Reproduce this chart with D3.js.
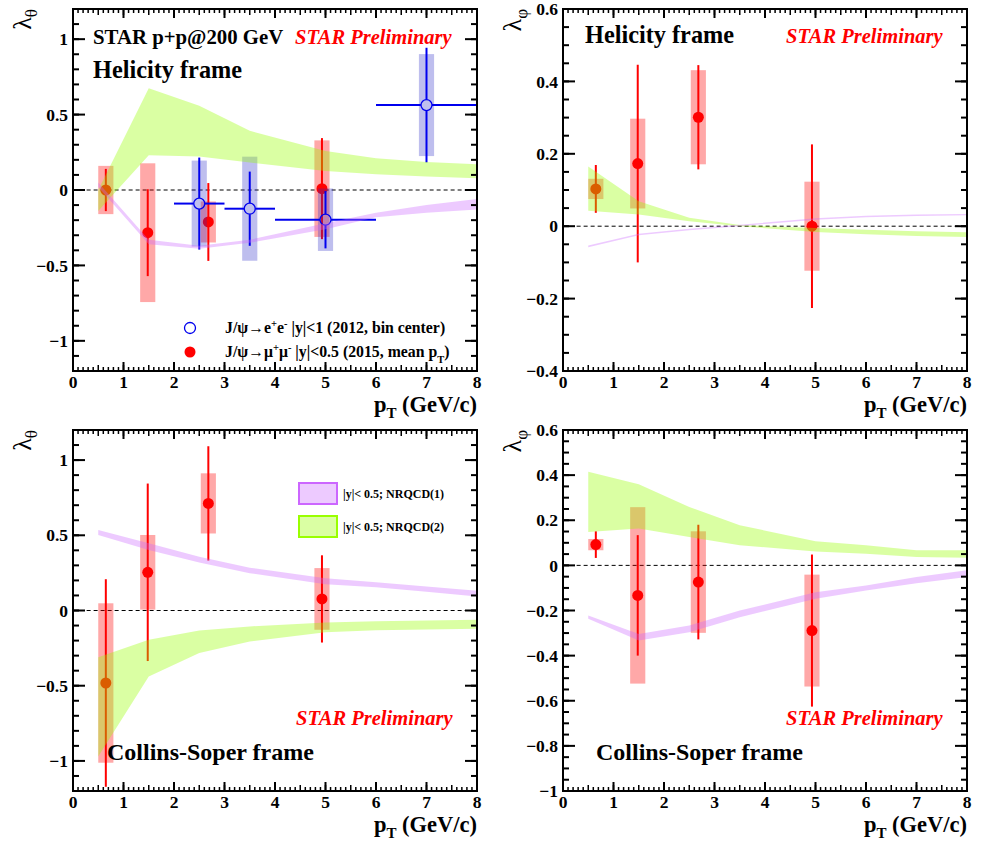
<!DOCTYPE html>
<html>
<head>
<meta charset="utf-8">
<script src="https://cdn.jsdelivr.net/npm/d3@7"></script>
<style>
  body { margin: 0; background: #fff; }
  svg { display: block; }
</style>
</head>
<body>
<svg id="chart" width="981" height="847" font-family="Liberation Serif, Times New Roman, serif" font-weight="bold"></svg>
<script>
// --- data ---
const ptMean2015 = [0.65, 1.48, 2.68, 4.93]
const ptCenter2012 = [2.5, 3.5, 5, 7]
const ptLow2012 = [2, 3, 4, 6]
const ptHigh2012 = [3, 4, 6, 8]

// Helicity frame, lambda_theta
const hxTheta2015 = [0.0, -0.283, -0.212, 0.009]
const hxTheta2015Stat = [0.14, 0.288, 0.258, 0.335]
const hxTheta2015Sys = [0.16, 0.46, 0.136, 0.32]
const hxTheta2012 = [-0.09, -0.124, -0.197, 0.563]
const hxTheta2012Stat = [0.305, 0.246, 0.19, 0.38]
const hxTheta2012Sys = [0.285, 0.345, 0.207, 0.338]

// Helicity frame, lambda_phi
const hxPhi2015 = [0.103, 0.173, 0.301, 0.0]
const hxPhi2015Stat = [0.066, 0.273, 0.144, 0.226]
const hxPhi2015Sys = [0.028, 0.124, 0.13, 0.123]

// Collins-Soper frame, lambda_theta
const csTheta2015 = [-0.482, 0.254, 0.712, 0.077]
const csTheta2015Stat = [0.69, 0.59, 0.38, 0.29]
const csTheta2015Sys = [0.53, 0.248, 0.2, 0.205]

// Collins-Soper frame, lambda_phi
const csPhi2015 = [0.092, -0.133, -0.074, -0.289]
const csPhi2015Stat = [0.059, 0.267, 0.254, 0.337]
const csPhi2015Sys = [0.025, 0.391, 0.225, 0.248]

// NRQCD bands
const bandPt = [0.5, 1.5, 2.5, 3.5, 5, 6, 7, 8]
const hxThetaN1Lo = [0.02, -0.36, -0.39, -0.35, -0.26, -0.18, -0.15, -0.13]
const hxThetaN1Hi = [0.05, -0.33, -0.37, -0.33, -0.22, -0.15, -0.10, -0.06]
const hxThetaN2Lo = [-0.14, 0.231, 0.222, 0.182, 0.126, 0.104, 0.09, 0.078]
const hxThetaN2Hi = [0.0, 0.674, 0.558, 0.392, 0.259, 0.21, 0.185, 0.171]
const hxPhiN1Lo = [-0.058, -0.025, -0.011, 0.0, 0.018, 0.025, 0.028, 0.030]
const hxPhiN1Hi = [-0.053, -0.021, -0.007, 0.004, 0.022, 0.029, 0.032, 0.034]
const hxPhiN2Lo = [0.043, 0.032, 0.014, 0.0, -0.016, -0.022, -0.027, -0.03]
const hxPhiN2Hi = [0.165, 0.069, 0.023, 0.003, -0.005, -0.01, -0.014, -0.017]
const csThetaN1Lo = [0.502, 0.403, 0.319, 0.248, 0.175, 0.155, 0.125, 0.093]
const csThetaN1Hi = [0.535, 0.447, 0.358, 0.285, 0.215, 0.188, 0.16, 0.131]
const csThetaN2Lo = [-0.97, -0.438, -0.283, -0.206, -0.144, -0.132, -0.126, -0.122]
const csThetaN2Hi = [-0.31, -0.195, -0.133, -0.106, -0.08, -0.072, -0.066, -0.062]
const csPhiN1Lo = [-0.237, -0.333, -0.296, -0.23, -0.148, -0.111, -0.079, -0.052]
const csPhiN1Hi = [-0.222, -0.304, -0.267, -0.2, -0.119, -0.089, -0.052, -0.022]
const csPhiN2Lo = [0.148, 0.163, 0.126, 0.089, 0.062, 0.052, 0.037, 0.034]
const csPhiN2Hi = [0.415, 0.36, 0.259, 0.178, 0.107, 0.089, 0.067, 0.067]

// tick labels
const xTicks = [0, 1, 2, 3, 4, 5, 6, 7, 8]
const yTicksTheta = [-1, -0.5, 0, 0.5, 1]
const yTicksPhiHX = [-0.4, -0.2, 0, 0.2, 0.4, 0.6]
const yTicksPhiCS = [-1, -0.8, -0.6, -0.4, -0.2, 0, 0.2, 0.4, 0.6]

const legend2012 = ["J/\u03c8\u2192e", "+", "e", "-", " |y|<1 (2012, bin center)"]
const legend2015 = ["J/\u03c8\u2192\u03bc", "+", "\u03bc", "-", " |y|<0.5 (2015, mean p", "T", ")"]
const bandLabels = ["|y|< 0.5; NRQCD(1)", "|y|< 0.5; NRQCD(2)"]

// --- style ---
const RED = "#ff0000"
const RED_BOX = "rgba(255,0,0,0.34)"
const BLUE = "#0000ee"
const BLUE_BOX = "rgba(40,40,200,0.3)"
const GREEN_BAND = "rgba(153,255,0,0.36)"
const PURPLE_BAND = "rgba(204,102,255,0.35)"

const svg = d3.select("#chart")

const fmt = d => d === 0 ? "0" : (d < 0 ? "\u2212" : "") + Math.abs(d)

function zip(a, b, c) {
    return a.map((v, i) => ({ x: v, lo: b[i], hi: c[i] }))
}

function drawPanel(p) {
    var x = d3.scaleLinear().domain([0, 8]).range([p.left, p.right])
    var y = d3.scaleLinear().domain(p.yDomain).range([p.bottom, p.top])
    var g = svg.append("g")

    // zero line
    g.append("line")
        .attr("x1", x(0.27)).attr("x2", x(7.9))
        .attr("y1", y(0)).attr("y2", y(0))
        .attr("stroke", "#000").attr("stroke-width", 1)
        .attr("stroke-dasharray", "4,3")

    // 2015 points (red)
    var red = p.val.map((v, i) => ({ x: ptMean2015[i], y: v, stat: p.stat[i], sys: p.sys[i] }))
    g.selectAll(".sysr").data(red).enter().append("rect")
        .attr("x", d => x(d.x - 0.15))
        .attr("width", d => x(d.x + 0.15) - x(d.x - 0.15))
        .attr("y", d => y(d.y + d.sys))
        .attr("height", d => y(d.y - d.sys) - y(d.y + d.sys))
        .attr("fill", RED_BOX)
    g.selectAll(".statr").data(red).enter().append("line")
        .attr("x1", d => x(d.x)).attr("x2", d => x(d.x))
        .attr("y1", d => y(d.y + d.stat)).attr("y2", d => y(d.y - d.stat))
        .attr("stroke", RED).attr("stroke-width", 2)
    g.selectAll(".ptr").data(red).enter().append("circle")
        .attr("cx", d => x(d.x)).attr("cy", d => y(d.y))
        .attr("r", 5.5).attr("fill", RED)

    // 2012 points (blue, helicity lambda_theta only)
    if (p.val2012) {
        var blue = p.val2012.map((v, i) => ({
            x: ptCenter2012[i], lo: ptLow2012[i], hi: ptHigh2012[i],
            y: v, stat: p.stat2012[i], sys: p.sys2012[i]
        }))
        var r = 5.5
        g.selectAll(".sysb").data(blue).enter().append("rect")
            .attr("x", d => x(d.x - 0.15))
            .attr("width", d => x(d.x + 0.15) - x(d.x - 0.15))
            .attr("y", d => y(d.y + d.sys))
            .attr("height", d => y(d.y - d.sys) - y(d.y + d.sys))
            .attr("fill", BLUE_BOX)
        var bg = g.selectAll(".ptb").data(blue).enter().append("g")
        bg.append("line") // left
            .attr("x1", d => x(d.lo)).attr("x2", d => x(d.x) - r)
            .attr("y1", d => y(d.y)).attr("y2", d => y(d.y))
        bg.append("line") // right
            .attr("x1", d => x(d.x) + r).attr("x2", d => x(d.hi))
            .attr("y1", d => y(d.y)).attr("y2", d => y(d.y))
        bg.append("line") // up
            .attr("x1", d => x(d.x)).attr("x2", d => x(d.x))
            .attr("y1", d => y(d.y + d.stat)).attr("y2", d => y(d.y) - r)
        bg.append("line") // down
            .attr("x1", d => x(d.x)).attr("x2", d => x(d.x))
            .attr("y1", d => y(d.y) + r).attr("y2", d => y(d.y - d.stat))
        bg.selectAll("line").attr("stroke", BLUE).attr("stroke-width", 2)
        bg.append("circle")
            .attr("cx", d => x(d.x)).attr("cy", d => y(d.y))
            .attr("r", r).attr("fill", "none")
            .attr("stroke", BLUE).attr("stroke-width", 1.3)
    }

    // NRQCD bands, drawn over the points
    var area = d3.area()
        .x(d => x(d.x))
        .y0(d => y(d.lo))
        .y1(d => y(d.hi))
    g.append("path").attr("d", area(p.band2)).attr("fill", GREEN_BAND)
    g.append("path").attr("d", area(p.band1)).attr("fill", PURPLE_BAND)

    // frame and ticks (ROOT style, inward, on all four sides)
    var ax = svg.append("g").attr("stroke", "#000")
    var yMinorStep = p.yMinor
    var yMinor = d3.range(Math.ceil(p.yDomain[0] / yMinorStep - 1e-6), Math.floor(p.yDomain[1] / yMinorStep + 1e-6) + 1)
        .map(i => i * yMinorStep)
    var xMinor = d3.range(1, 80).map(i => i / 10)

    yMinor.forEach(v => {
        ax.append("line").attr("x1", p.left).attr("x2", p.left + 6).attr("y1", y(v)).attr("y2", y(v)).attr("stroke-width", 2)
        ax.append("line").attr("x1", p.right).attr("x2", p.right - 6).attr("y1", y(v)).attr("y2", y(v)).attr("stroke-width", 2)
    })
    p.yTicks.forEach(v => {
        ax.append("line").attr("x1", p.left).attr("x2", p.left + 12).attr("y1", y(v)).attr("y2", y(v)).attr("stroke-width", 2)
        ax.append("line").attr("x1", p.right).attr("x2", p.right - 12).attr("y1", y(v)).attr("y2", y(v)).attr("stroke-width", 2)
    })
    xMinor.forEach((v, i) => {
        var len = (i + 1) % 5 === 0 ? 6 : 4
        ax.append("line").attr("x1", x(v)).attr("x2", x(v)).attr("y1", p.bottom).attr("y2", p.bottom - len).attr("stroke-width", 1.5)
        ax.append("line").attr("x1", x(v)).attr("x2", x(v)).attr("y1", p.top).attr("y2", p.top + len).attr("stroke-width", 1.5)
    })
    xTicks.forEach(v => {
        ax.append("line").attr("x1", x(v)).attr("x2", x(v)).attr("y1", p.bottom).attr("y2", p.bottom - 9).attr("stroke-width", 2)
        ax.append("line").attr("x1", x(v)).attr("x2", x(v)).attr("y1", p.top).attr("y2", p.top + 9).attr("stroke-width", 2)
    })
    ax.append("rect")
        .attr("x", p.left).attr("y", p.top)
        .attr("width", p.right - p.left).attr("height", p.bottom - p.top)
        .attr("fill", "none").attr("stroke-width", 2)

    // tick labels
    svg.append("g").selectAll("text").data(p.yTicks).enter().append("text")
        .attr("x", p.left - 5).attr("y", d => y(d)).attr("dy", "0.35em")
        .attr("text-anchor", "end").attr("font-size", 17.5)
        .text(fmt)
    svg.append("g").selectAll("text").data(xTicks).enter().append("text")
        .attr("x", d => x(d)).attr("y", p.bottom + 17)
        .attr("text-anchor", "middle").attr("font-size", 17.5)
        .text(fmt)

    // x title
    var xt = svg.append("text")
        .attr("x", p.right).attr("y", p.bottom + 41)
        .attr("text-anchor", "end").attr("font-size", 22.5)
    xt.append("tspan").text("p")
    xt.append("tspan").attr("font-size", 15).attr("dy", 6).text("T")
    xt.append("tspan").attr("dy", -6).text(" (GeV/c)")

    // y title (rotated)
    var yt = svg.append("text")
        .attr("transform", `translate(${p.left - 42},${p.top}) rotate(-90)`)
        .attr("text-anchor", "end").attr("font-size", 26).attr("font-weight", "normal")
    yt.append("tspan").text("\u03bb")
    yt.append("tspan").attr("font-size", 17).attr("dy", 6).text(p.ySub)

    // annotations
    p.notes.forEach(n => {
        svg.append("text")
            .attr("x", p.left + n.dx).attr("y", p.top + n.dy)
            .attr("font-size", n.size)
            .attr("fill", n.color || "#000")
            .attr("font-style", n.italic ? "italic" : "normal")
            .text(n.text)
    })

    return { x: x, y: y }
}

var prelim = { text: "STAR Preliminary", size: 20.5, color: RED, italic: true }

drawPanel({
    left: 73, right: 477, top: 9, bottom: 371, yDomain: [-1.2, 1.2], yTicks: yTicksTheta, yMinor: 0.1, ySub: "\u03b8",
    val: hxTheta2015, stat: hxTheta2015Stat, sys: hxTheta2015Sys,
    val2012: hxTheta2012, stat2012: hxTheta2012Stat, sys2012: hxTheta2012Sys,
    band1: zip(bandPt, hxThetaN1Lo, hxThetaN1Hi), band2: zip(bandPt, hxThetaN2Lo, hxThetaN2Hi),
    notes: [
        { text: "STAR p+p@200 GeV", dx: 20, dy: 35, size: 20.8 },
        Object.assign({ dx: 222, dy: 35 }, prelim),
        { text: "Helicity frame", dx: 20, dy: 69, size: 24.3 }
    ]
})
drawPanel({
    left: 563, right: 967, top: 9, bottom: 371, yDomain: [-0.4, 0.6], yTicks: yTicksPhiHX, yMinor: 0.05, ySub: "\u03c6",
    val: hxPhi2015, stat: hxPhi2015Stat, sys: hxPhi2015Sys,
    band1: zip(bandPt, hxPhiN1Lo, hxPhiN1Hi), band2: zip(bandPt, hxPhiN2Lo, hxPhiN2Hi),
    notes: [
        { text: "Helicity frame", dx: 22, dy: 34, size: 24.3 },
        Object.assign({ dx: 223, dy: 34 }, prelim)
    ]
})
drawPanel({
    left: 73, right: 477, top: 430, bottom: 791, yDomain: [-1.2, 1.2], yTicks: yTicksTheta, yMinor: 0.1, ySub: "\u03b8",
    val: csTheta2015, stat: csTheta2015Stat, sys: csTheta2015Sys,
    band1: zip(bandPt, csThetaN1Lo, csThetaN1Hi), band2: zip(bandPt, csThetaN2Lo, csThetaN2Hi),
    notes: [
        Object.assign({ dx: 223, dy: 295 }, prelim),
        { text: "Collins-Soper frame", dx: 34, dy: 330, size: 24 }
    ]
})
drawPanel({
    left: 563, right: 967, top: 430, bottom: 791, yDomain: [-1, 0.6], yTicks: yTicksPhiCS, yMinor: 0.05, ySub: "\u03c6",
    val: csPhi2015, stat: csPhi2015Stat, sys: csPhi2015Sys,
    band1: zip(bandPt, csPhiN1Lo, csPhiN1Hi), band2: zip(bandPt, csPhiN2Lo, csPhiN2Hi),
    notes: [
        Object.assign({ dx: 223, dy: 295 }, prelim),
        { text: "Collins-Soper frame", dx: 33, dy: 330, size: 24 }
    ]
})

// legend for the data points (top left panel)
var lg = svg.append("g")
lg.append("circle").attr("cx", 190).attr("cy", 328).attr("r", 5.5)
    .attr("fill", "#fff").attr("stroke", BLUE).attr("stroke-width", 1.3)
lg.append("circle").attr("cx", 190).attr("cy", 352).attr("r", 5.5).attr("fill", RED)

function legendText(parts, yy) {
    var t = lg.append("text").attr("x", 225).attr("y", yy).attr("font-size", 15.8)
    parts.forEach((s, i) => {
        var ts = t.append("tspan").text(s)
        if (s === "+" || s === "-") ts.attr("font-size", 10.5).attr("dy", -6)
        else if (s === "T") ts.attr("font-size", 10.5).attr("dy", 6)
        else if (i > 0 && (parts[i - 1] === "+" || parts[i - 1] === "-")) ts.attr("dy", 6)
        else if (i > 0 && parts[i - 1] === "T") ts.attr("dy", -6)
    })
}
legendText(legend2012, 333)
legendText(legend2015, 357)

// legend for the NRQCD bands (bottom left panel)
var bl = svg.append("g")
var bandStyles = [
    { fill: PURPLE_BAND, stroke: "#cc66ff" },
    { fill: GREEN_BAND, stroke: "#99ff00" }
]
bandLabels.forEach((s, i) => {
    bl.append("rect").attr("x", 299).attr("y", 483 + i * 33).attr("width", 38).attr("height", 21)
        .attr("fill", bandStyles[i].fill).attr("stroke", bandStyles[i].stroke).attr("stroke-width", 2)
    bl.append("text").attr("x", 343).attr("y", 498 + i * 33).attr("font-size", 12).text(s)
})
</script>
</body>
</html>
